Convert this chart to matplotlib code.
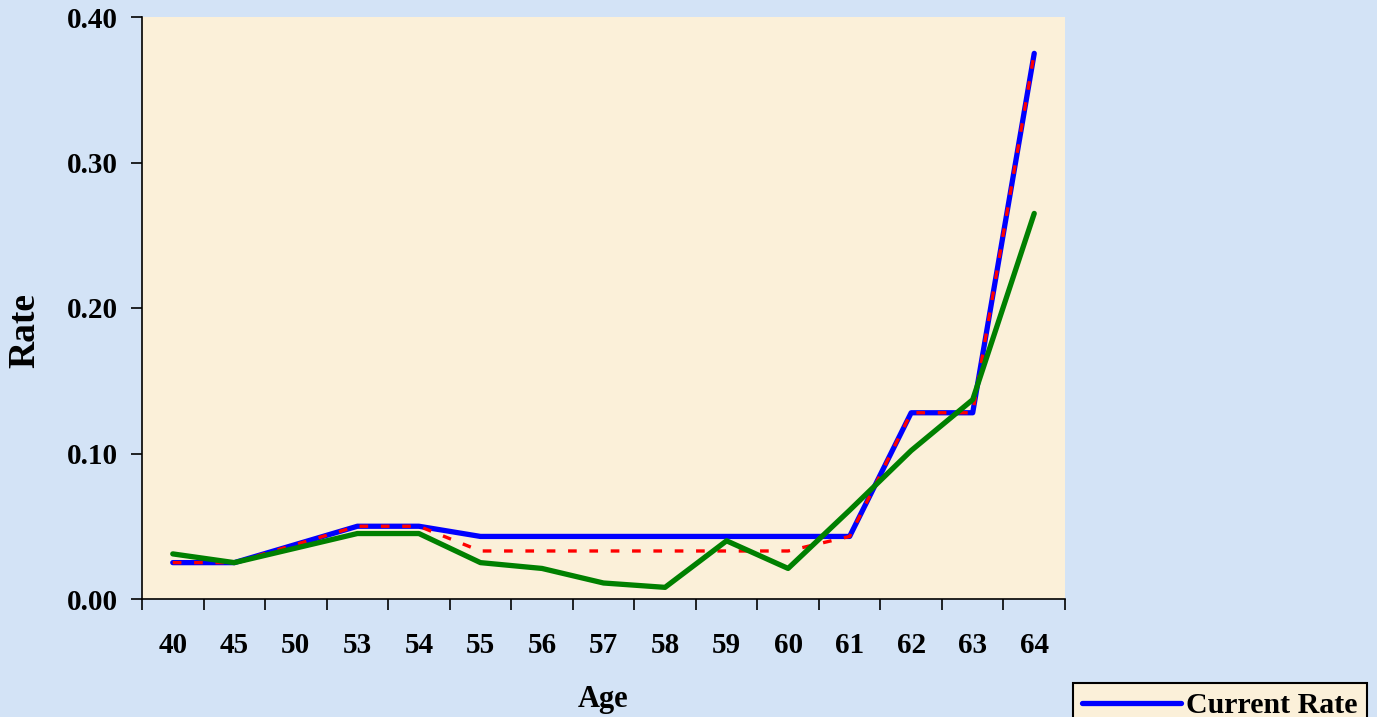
import matplotlib
matplotlib.use("Agg")
import matplotlib.pyplot as plt
import numpy as np

ages = ["40", "45", "50", "53", "54", "55", "56", "57", "58", "59", "60", "61", "62", "63", "64"]
current_rate = [0.025, 0.025, 0.0375, 0.050, 0.050, 0.043, 0.043, 0.043, 0.043, 0.043, 0.043, 0.043, 0.128, 0.128, 0.375]
proposed_rate = [0.025, 0.025, 0.0375, 0.050, 0.050, 0.033, 0.033, 0.033, 0.033, 0.033, 0.033, 0.043, 0.128, 0.128, 0.375]
experience_rate = [0.031, 0.025, 0.035, 0.045, 0.045, 0.025, 0.021, 0.011, 0.008, 0.040, 0.021, 0.061, 0.102, 0.137, 0.265]
y_ticks = [0.00, 0.10, 0.20, 0.30, 0.40]

plt.rcParams['font.family'] = ['Liberation Serif', 'DejaVu Serif']
plt.rcParams['font.weight'] = 'bold'

fig = plt.figure(figsize=(13.77, 7.17), dpi=100)
fig.patch.set_facecolor('#d3e3f6')
ax = fig.add_axes([142/1377, 1-599/717, (1065-142)/1377, (599-17)/717])
ax.set_facecolor('#fbf0d9')

x = np.arange(len(ages))
ax.plot(x, current_rate, color='#0000ff', lw=3.8, label='Current Rate', solid_capstyle='round', zorder=3)
ax.plot(x, proposed_rate, color='#ff0000', lw=2.4, dashes=(2.6, 3.8), label='New Rate', zorder=4)
ax.plot(x, experience_rate, color='#008000', lw=3.8, label='Actual', solid_capstyle='round', zorder=5)

ax.set_xlim(-0.5, len(ages) - 0.5)
ax.set_ylim(0, 0.40)
ax.set_yticks(y_ticks)
ax.set_yticklabels([f"{v:.2f}" for v in y_ticks], fontsize=21, fontweight='bold')
ax.set_xticks(x)
ax.set_xticklabels(ages, fontsize=21, fontweight='bold')
ax.set_xticks(np.arange(len(ages) + 1) - 0.5, minor=True)
ax.tick_params(axis='x', which='major', length=0, pad=24)
ax.tick_params(axis='x', which='minor', length=8, width=1.2, direction='out', color='black')
ax.tick_params(axis='y', length=8, width=1.2, direction='out', pad=9.5)

for s in ['top', 'right']:
    ax.spines[s].set_visible(False)
for s in ['left', 'bottom']:
    ax.spines[s].set_linewidth(1.2)
    ax.spines[s].set_color('black')

fig.text(25/1377, 1-330/717, 'Rate', rotation=90, ha='center', va='center', fontsize=27, fontweight='bold')
fig.text(603/1377, 1-700/717, 'Age', ha='center', va='center', fontsize=22, fontweight='bold')

leg = fig.legend(loc='upper left', bbox_to_anchor=(1073/1377, 1-683/717), frameon=True,
                 prop={'weight': 'bold', 'size': 21.5}, handlelength=3.3,
                 borderpad=0.3, borderaxespad=0, labelspacing=0.6, handletextpad=0.2, fancybox=False)
leg.get_frame().set_facecolor('#fbf0d9')
leg.get_frame().set_edgecolor('black')
leg.get_frame().set_linewidth(1.5)
leg.get_frame().set_alpha(1)

fig.savefig('out.png', dpi=100, facecolor=fig.get_facecolor())
